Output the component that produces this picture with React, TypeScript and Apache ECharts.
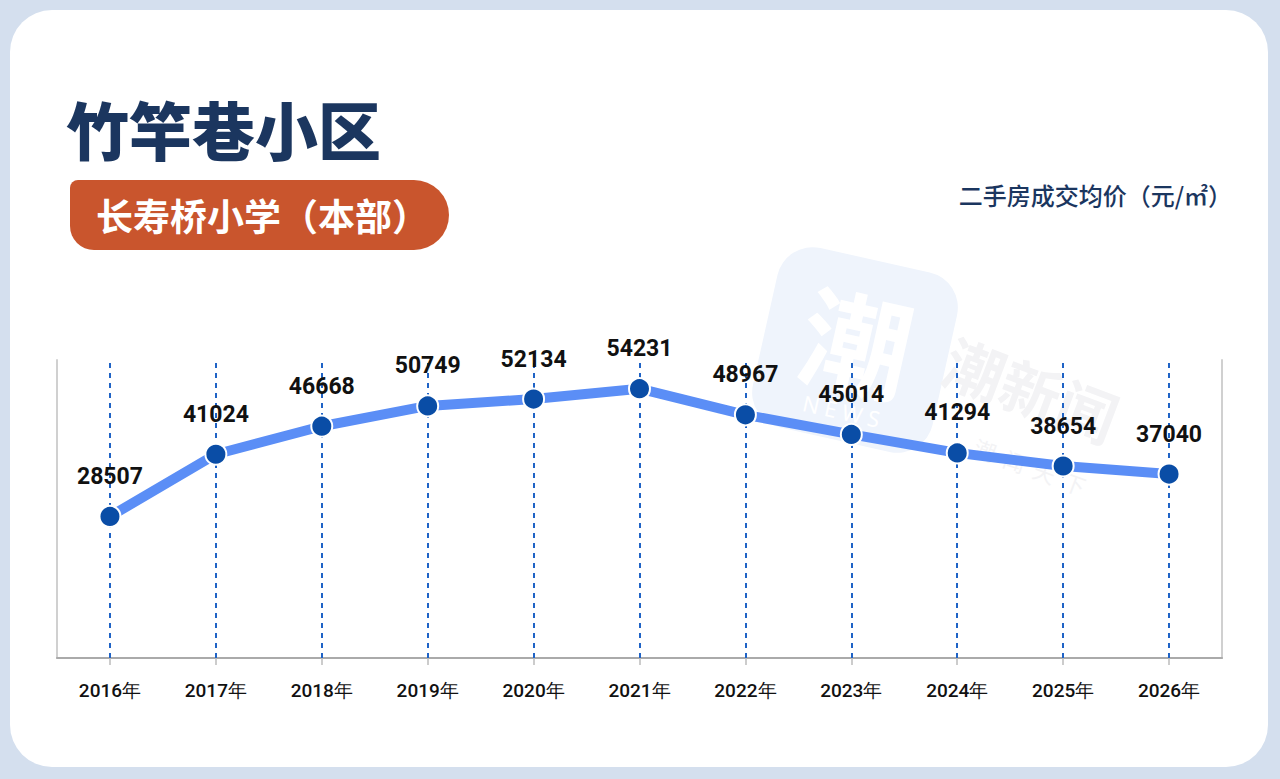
import React, { useEffect, useRef } from "react";
import * as echarts from "echarts";

const TITLE = "竹竿巷小区";
const SCHOOL = "长寿桥小学（本部）";
const UNIT_LABEL = "二手房成交均价（元/㎡）";
const YEARS = ["2016年", "2017年", "2018年", "2019年", "2020年", "2021年", "2022年", "2023年", "2024年", "2025年", "2026年"];
const PRICES = [28507, 41024, 46668, 50749, 52134, 54231, 48967, 45014, 41294, 38654, 37040];
const Y_MIN = 0;
const Y_MAX = 60000;

export default function App() {
  const ref = useRef<HTMLDivElement>(null);
  useEffect(() => {
    if (!ref.current) return;
    const chart = echarts.init(ref.current, undefined, { renderer: "svg" });
    const numFont = "Roboto, 'Noto Sans', sans-serif";
    const cjkFont = "'Noto Sans CJK SC', 'Noto Sans', sans-serif";
    chart.setOption({
      animation: false,
      backgroundColor: "#d4dfee",
      graphic: [
        {
          type: "rect",
          z: 0,
          shape: { x: 10, y: 10, width: 1258, height: 757, r: 42 },
          style: { fill: "#ffffff" },
        },
        // watermark logo
        {
          type: "group",
          x: 855,
          y: 350,
          rotation: -0.22,
          z: 0,
          children: [
            {
              type: "rect",
              shape: { x: -92, y: -92, width: 184, height: 184, r: 36 },
              style: { fill: "#eff4fc" },
            },
            {
              type: "text",
              x: 0,
              y: -12,
              style: {
                text: "潮",
                fill: "#ffffff",
                font: "bold 110px 'Noto Sans CJK SC', sans-serif",
                align: "center",
                verticalAlign: "middle",
              },
            },
            {
              type: "text",
              x: 0,
              y: 62,
              style: {
                text: "N E W S",
                fill: "#ffffff",
                font: "22px 'Noto Sans', sans-serif",
                align: "center",
                verticalAlign: "middle",
              },
            },
          ],
        },
        {
          type: "text",
          x: 1032,
          y: 388,
          rotation: -0.36,
          z: 0,
          style: {
            text: "潮新闻",
            fill: "#f3f3f5",
            font: "bold 60px 'Noto Sans CJK SC', sans-serif",
            align: "center",
            verticalAlign: "middle",
          },
        },
        {
          type: "text",
          x: 1030,
          y: 466,
          rotation: -0.36,
          z: 0,
          style: {
            text: "潮  闻  天  下",
            fill: "#f3f3f5",
            font: "22px 'Noto Sans CJK SC', sans-serif",
            align: "center",
            verticalAlign: "middle",
          },
        },
        {
          type: "text",
          x: 66,
          y: 127,
          z: 1,
          style: {
            text: TITLE,
            fill: "#1b365f",
            font: `900 63px ${cjkFont}`,
            align: "left",
            verticalAlign: "middle",
          },
        },
        {
          type: "rect",
          z: 1,
          shape: { x: 70, y: 180, width: 379, height: 70, r: [8, 35, 35, 24] },
          style: { fill: "#c9552d" },
        },
        {
          type: "text",
          x: 96,
          y: 215,
          z: 2,
          style: {
            text: SCHOOL,
            fill: "#ffffff",
            font: `bold 37px ${cjkFont}`,
            align: "left",
            verticalAlign: "middle",
          },
        },
        {
          type: "text",
          x: 1232,
          y: 194,
          z: 1,
          style: {
            text: UNIT_LABEL,
            fill: "#1b365f",
            font: `500 24px ${cjkFont}`,
            align: "right",
            verticalAlign: "middle",
          },
        },
      ],
      grid: { left: 57, right: 58, top: 360, bottom: 121, containLabel: false },
      xAxis: {
        type: "category",
        data: YEARS,
        boundaryGap: true,
        axisLine: { show: true, lineStyle: { color: "#aaaaaa", width: 2 } },
        axisTick: { show: true, alignWithLabel: true, length: 7, lineStyle: { color: "#bbbbbb", width: 1.5 } },
        axisLabel: { color: "#111111", fontSize: 19, margin: 23, fontFamily: numFont, fontWeight: 500 },
        splitLine: { show: false },
      },
      yAxis: [
        {
          type: "value",
          min: Y_MIN,
          max: Y_MAX,
          position: "left",
          axisLine: { show: true, lineStyle: { color: "#d0d0d0", width: 2 } },
          axisTick: { show: false },
          axisLabel: { show: false },
          splitLine: { show: false },
        },
        {
          type: "value",
          min: Y_MIN,
          max: Y_MAX,
          position: "right",
          axisLine: { show: true, lineStyle: { color: "#d0d0d0", width: 2 } },
          axisTick: { show: false },
          axisLabel: { show: false },
          splitLine: { show: false },
        },
      ],
      series: [
        {
          type: "line",
          z: 1,
          data: [],
          silent: true,
          markLine: {
            z: 1,
            silent: true,
            symbol: "none",
            label: { show: false },
            lineStyle: { color: "#1f63c6", width: 2, type: [5, 5] },
            data: YEARS.map((y) => ({ xAxis: y })),
          },
        },
        {
          type: "line",
          z: 3,
          data: PRICES,
          symbol: "circle",
          symbolSize: 21,
          lineStyle: { color: "#5b8ef6", width: 10, cap: "round", join: "round" },
          itemStyle: { color: "#0a4da6", borderColor: "#ffffff", borderWidth: 2 },
          label: {
            show: true,
            position: "top",
            distance: 17,
            color: "#111111",
            fontSize: 23,
            fontWeight: "bold",
            fontFamily: numFont,
          },
        },
      ],
    });
    return () => chart.dispose();
  }, []);
  return (
    <div
      ref={ref}
      style={{ position: "fixed", left: 0, top: 0, width: 1280, height: 779 }}
    />
  );
}
